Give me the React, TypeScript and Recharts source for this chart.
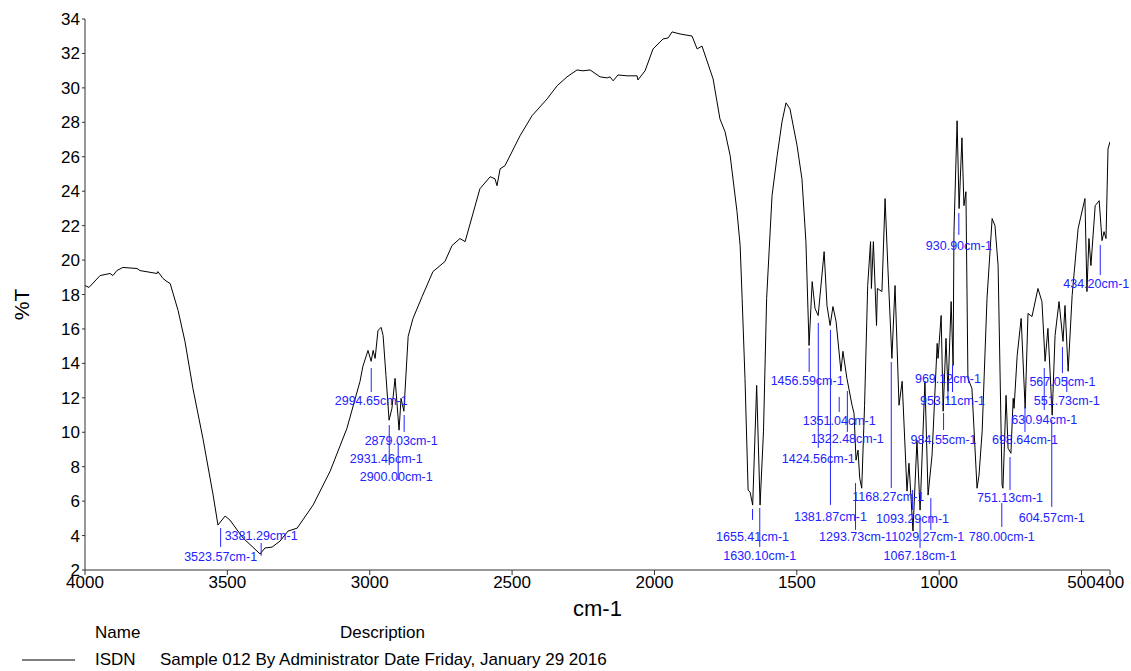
import React from 'react';
import { LineChart, Line, XAxis, YAxis, ReferenceLine, ReferenceDot } from 'recharts';

// spectrum
const wavenumbers = [
  4000, 3986, 3947, 3912, 3902, 3888, 3867, 3817, 3807, 3747, 3744, 3726, 3712, 3701, 3673, 3649, 3621, 3586, 3550, 3533,
  3508, 3491, 3445, 3385, 3368, 3343, 3315, 3287, 3255, 3199, 3139, 3080, 3034, 3024, 3006, 2995, 2988, 2981, 2971, 2960,
  2953, 2943, 2932, 2922, 2911, 2897, 2890, 2880, 2865, 2848, 2816, 2778, 2736, 2711, 2683, 2665, 2613, 2577, 2560, 2553,
  2542, 2525, 2472, 2430, 2377, 2342, 2307, 2272, 2251, 2226, 2191, 2166, 2156, 2145, 2128, 2096, 2061, 2058, 2033, 2005,
  1970, 1952, 1938, 1910, 1868, 1850, 1833, 1794, 1770, 1752, 1734, 1710, 1699, 1692, 1682, 1671, 1664, 1655, 1641, 1629,
  1617, 1606, 1587, 1569, 1552, 1538, 1524, 1499, 1482, 1468, 1457, 1446, 1436, 1425, 1404, 1394, 1383, 1373, 1362, 1345,
  1338, 1324, 1306, 1299, 1292, 1285, 1279, 1272, 1262, 1251, 1241, 1238, 1231, 1220, 1217, 1201, 1190, 1180, 1166, 1155,
  1141, 1130, 1113, 1106, 1092, 1078, 1067, 1050, 1039, 1025, 1007, 1004, 993, 986, 976, 969, 958, 951, 948, 937,
  930, 920, 913, 906, 899, 885, 867, 860, 849, 832, 814, 804, 793, 779, 776, 765, 758, 748, 740, 737,
  726, 712, 698, 688, 674, 653, 639, 628, 618, 603, 593, 579, 565, 558, 547, 533, 512, 488, 481, 474,
  467, 452, 438, 428, 421, 414, 407, 400,
];

const transmittance = [
  18.52, 18.41, 19.1, 19.22, 19.1, 19.39, 19.57, 19.51, 19.39, 19.22, 19.33, 18.93, 18.75, 18.64, 17.07, 15.28, 12.55, 9.65, 6.35, 4.61,
  5.13, 4.9, 3.86, 2.93, 3.28, 3.33, 3.68, 4.26, 4.43, 5.77, 7.74, 10.23, 12.96, 13.83, 14.75, 14.12, 14.75, 14.29, 15.91, 16.09,
  15.62, 13.3, 10.7, 11.39, 13.13, 10.12, 11.97, 11.22, 15.57, 16.61, 17.88, 19.33, 19.91, 20.84, 21.25, 21.07, 24.14, 24.84, 24.72, 24.32,
  25.3, 25.48, 27.22, 28.38, 29.36, 30.12, 30.64, 31.04, 30.99, 31.04, 30.64, 30.58, 30.64, 30.41, 30.75, 30.7, 30.7, 30.46, 30.99, 32.26,
  32.84, 32.9, 33.25, 33.13, 33.01, 32.26, 32.43, 30.52, 28.2, 27.45, 26.06, 22.81, 20.84, 17.77, 13.13, 6.64, 6.52, 5.77, 12.72, 5.77,
  10.06, 17.77, 23.74, 26.06, 28.03, 29.13, 28.78, 26.64, 24.72, 21.07, 15.04, 18.75, 17.19, 16.78, 20.49, 17.36, 16.2, 17.3, 16.43, 13.54,
  14.7, 13.13, 11.57, 11.1, 8.38, 8.96, 7.33, 6.75, 11.57, 18.52, 21.07, 18.35, 21.07, 16.2, 18.35, 18.17, 23.57, 19.51, 14.29, 18.52,
  11.57, 12.96, 6.58, 8.2, 4.26, 9.54, 5.48, 12.96, 6.35, 8.67, 15.16, 14.29, 16.78, 11.22, 15.45, 12.38, 17.59, 13.88, 21.65, 28.09,
  22.99, 27.1, 23.16, 23.97, 13.13, 12.55, 6.75, 7.51, 10.06, 17.77, 22.41, 22.0, 19.68, 6.93, 6.75, 12.14, 9.07, 8.78, 11.97, 11.39,
  14.46, 16.61, 11.39, 16.9, 16.72, 18.35, 17.59, 14.12, 16.03, 10.99, 15.62, 17.59, 15.28, 17.36, 13.54, 17.94, 21.83, 23.57, 18.17, 21.25,
  19.68, 23.16, 23.45, 21.13, 21.65, 21.25, 26.46, 26.87,
];

const xTicks = [4000, 3500, 3000, 2500, 2000, 1500, 1000, 500, 400];
const yTicks = [2, 4, 6, 8, 10, 12, 14, 16, 18, 20, 22, 24, 26, 28, 30, 32, 34];

// picked peaks (cm-1)
const peakLabels = [
  '3523.57', '3381.29', '2994.65', '2931.46', '2900.00', '2879.03', '1655.41', '1630.10', '1456.59', '1424.56',
  '1381.87', '1351.04', '1322.48', '1293.73', '1168.27', '1093.29', '1067.18', '1029.27', '984.55', '969.12',
  '953.11', '930.90', '780.00', '751.13', '698.64', '630.94', '604.57', '567.05', '551.73', '434.20',
];

// annotation layout: marker top %T, marker bottom %T, text centre %T, text x nudge (px)
const peakMarks = [
  [4.44, 3.34, 2.76, 0], [3.57, 2.82, 3.98, 0], [13.73, 12.34, 11.82, 0], [10.42, 8.1, 8.45, -3], [9.38, 7.23, 7.4, -2],
  [11.0, 10.02, 9.49, -3], [5.54, 4.91, 3.92, 0], [5.6, 3.34, 2.82, 0], [14.89, 13.5, 12.98, -2], [16.35, 9.09, 8.45, 0],
  [15.94, 5.78, 5.08, 0], [12.05, 11.18, 10.66, 0], [12.4, 10.02, 9.61, 0], [7.05, 4.33, 3.92, 0], [14.08, 6.76, 6.24, -3],
  [6.65, 5.49, 4.96, 0], [5.02, 3.28, 2.82, 0], [6.18, 4.33, 3.92, -3], [11.12, 10.13, 9.55, 0], [12.75, 11.87, 13.09, 0],
  [13.91, 12.34, 11.82, 0], [22.73, 21.46, 20.82, 0], [5.89, 4.5, 3.92, 0], [8.56, 6.65, 6.18, 0], [11.47, 10.02, 9.55, 0],
  [13.73, 11.29, 10.71, 0], [10.71, 5.66, 5.02, 0], [14.95, 13.44, 12.92, 0], [13.21, 12.34, 11.82, 0], [20.88, 19.13, 18.61, -4],
];

const data = wavenumbers.map((wn, i) => ({ wn, t: transmittance[i] }));

const FONT = '"Liberation Sans", Arial, sans-serif';
const BLUE = '#2222ff';

const XTitle = (props: any) => {
  const vb = props.viewBox || { x: 85, y: 570, width: 1025, height: 50 };
  return (
    <text x={vb.x + vb.width / 2} y={vb.y + 46} textAnchor="middle" fontSize={22} fontFamily={FONT} fill="#000">
      cm-1
    </text>
  );
};

const YTitle = (props: any) => {
  const vb = props.viewBox || { x: 10, y: 19, width: 75, height: 551 };
  const x = vb.x + 19;
  const y = vb.y + vb.height / 2 + 10;
  return (
    <text x={x} y={y} transform={`rotate(-90, ${x}, ${y})`} textAnchor="middle" fontSize={21} fontFamily={FONT} fill="#000">
      %T
    </text>
  );
};

export default function App() {
  return (
    <div style={{ position: 'absolute', left: 0, top: 0, width: 1131, height: 671, background: '#fff', fontFamily: FONT }}>
      <LineChart width={1131} height={671} data={data} margin={{ top: 19, right: 21, bottom: 51, left: 10 }}>
        <XAxis
          dataKey="wn"
          type="number"
          domain={[400, 4000]}
          reversed
          allowDataOverflow
          ticks={xTicks}
          interval={0}
          tickSize={5}
          tickMargin={1}
          height={50}
          stroke="#333"
          tick={{ fill: '#000', fontSize: 17, fontFamily: FONT }}
          label={{ content: XTitle }}
        />
        <YAxis
          type="number"
          domain={[2, 34]}
          allowDataOverflow
          ticks={yTicks}
          interval={0}
          tickSize={3}
          tickMargin={2}
          width={75}
          stroke="#333"
          tick={{ fill: '#000', fontSize: 17, fontFamily: FONT }}
          label={{ content: YTitle }}
        />
        <Line type="linear" dataKey="t" stroke="#000" strokeWidth={1} dot={false} activeDot={false} isAnimationActive={false} />
        {peakLabels.map((lab, i) => (
          <ReferenceLine
            key={'l' + lab}
            segment={[
              { x: parseFloat(lab), y: peakMarks[i][0] },
              { x: parseFloat(lab), y: peakMarks[i][1] },
            ]}
            stroke={BLUE}
            strokeWidth={1}
            ifOverflow="visible"
          />
        ))}
        {peakLabels.map((lab, i) => (
          <ReferenceDot
            key={'t' + lab}
            x={parseFloat(lab)}
            y={peakMarks[i][2]}
            r={0}
            ifOverflow="visible"
            shape={(p: any) => (
              <text
                x={p.cx + peakMarks[i][3]}
                y={p.cy}
                dy="0.35em"
                textAnchor="middle"
                fontSize={12.5}
                fontFamily={FONT}
                fill={BLUE}
              >
                {lab + 'cm-1'}
              </text>
            )}
          />
        ))}
      </LineChart>
      <svg width={1131} height={60} style={{ position: 'absolute', left: 0, top: 611 }}>
        <text x={95} y={27} fontSize={17} fontFamily={FONT} fill="#000">Name</text>
        <text x={340} y={27} fontSize={17} fontFamily={FONT} fill="#000">Description</text>
        <line x1={22} x2={75} y1={49} y2={49} stroke="#000" strokeWidth={1} />
        <text x={95} y={54} fontSize={17} fontFamily={FONT} fill="#000">ISDN</text>
        <text x={160} y={54} fontSize={17} fontFamily={FONT} fill="#000">Sample 012 By Administrator Date Friday, January 29 2016</text>
      </svg>
    </div>
  );
}
